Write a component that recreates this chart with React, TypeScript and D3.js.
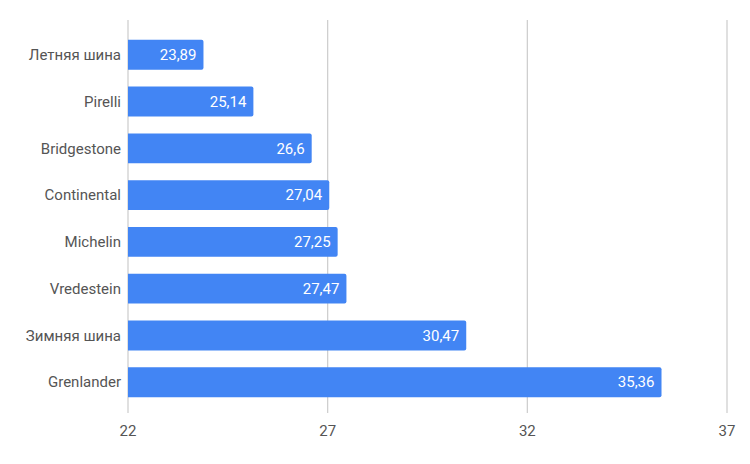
import React from "react";
import * as d3 from "d3";

const categories = ["Летняя шина", "Pirelli", "Bridgestone", "Continental", "Michelin", "Vredestein", "Зимняя шина", "Grenlander"];
const values = [23.89, 25.14, 26.6, 27.04, 27.25, 27.47, 30.47, 35.36];
const tickValues = [22, 27, 32, 37];

const W = 750;
const H = 464;
const plotLeft = 128;
const plotRight = 727;
const gridTop = 20;
const gridBottom = 413;

export default function App() {
  const x = d3.scaleLinear().domain([22, 37]).range([plotLeft, plotRight]);
  const y = d3
    .scaleBand<string>()
    .domain(categories)
    .range([23, 414])
    .paddingInner(0.36)
    .paddingOuter(0.36);
  const bw = y.bandwidth();
  const fmt = (v: number) => String(v).replace(".", ",");
  const font = "Roboto, 'Noto Sans', sans-serif";

  return (
    <svg width={W} height={H} style={{ position: "absolute", left: 0, top: 0, background: "#fff" }}>
      <rect x={0} y={0} width={W} height={H} fill="#fff" />
      {tickValues.map((t) => (
        <line key={t} x1={x(t)} x2={x(t)} y1={gridTop} y2={gridBottom} stroke="#cccccc" strokeWidth={1.2} />
      ))}
      {categories.map((c, i) => {
        const y0 = y(c)!;
        const x1 = x(values[i]);
        const w = x1 - plotLeft;
        const r = 2;
        const d = `M${plotLeft},${y0} H${x1 - r} Q${x1},${y0} ${x1},${y0 + r} V${y0 + bw - r} Q${x1},${y0 + bw} ${x1 - r},${y0 + bw} H${plotLeft} Z`;
        return (
          <g key={c}>
            <path d={d} fill="#4285f4" />
            <text
              x={plotLeft - 7}
              y={y0 + bw / 2}
              dy="0.35em"
              textAnchor="end"
              fontFamily={font}
              fontSize={15}
              fill="#555555"
            >
              {c}
            </text>
            {w > 0 && (
              <text
                x={x1 - 7}
                y={y0 + bw / 2}
                dy="0.35em"
                textAnchor="end"
                fontFamily={font}
                fontSize={15}
                fill="#ffffff"
              >
                {fmt(values[i])}
              </text>
            )}
          </g>
        );
      })}
      {tickValues.map((t) => (
        <text
          key={"l" + t}
          x={x(t)}
          y={431}
          dy="0.35em"
          textAnchor="middle"
          fontFamily={font}
          fontSize={15}
          fill="#555555"
        >
          {t}
        </text>
      ))}
    </svg>
  );
}
